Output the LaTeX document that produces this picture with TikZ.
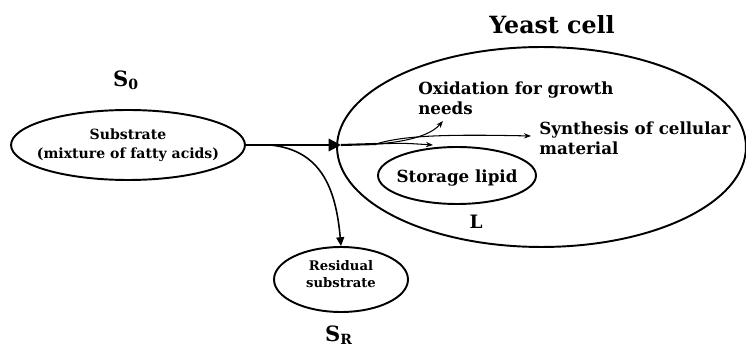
\documentclass[tikz,border=0pt]{standalone}
\usepackage{fontspec}
\setmainfont{DejaVu Serif}
\usetikzlibrary{shapes.geometric,arrows.meta}
\begin{document}
\begin{tikzpicture}[x=0.02cm,y=-0.02cm,
    blob/.style={draw,ellipse,line width=1.1pt,inner sep=0pt},
    txt/.style={inner sep=0pt,align=center,font=\fontsize{8}{10.5}\selectfont\bfseries},
    big/.style={inner sep=0pt,font=\fontsize{12}{14}\selectfont\bfseries},
    flow/.style={line width=0.6pt,-{Stealth[length=4pt,width=3pt]}}]
  \useasboundingbox (0,0) rectangle (746,347);

  \node[big] (s0) at (126,80) {S\textsubscript{0}};
  \node[blob,minimum width=4.68cm,minimum height=1.4cm] (sub) at (128,145) {};
  \node[txt] (subtxt) at (128,145) {Substrate\\(mixture of fatty acids)};

  \node[blob,minimum width=2.68cm,minimum height=1.3cm] (res) at (341,279.5) {};
  \node[txt,font=\fontsize{7.5}{10}\selectfont\bfseries] (restxt) at (341,274) {Residual\\substrate};
  \node[big] (sr) at (339,335) {S\textsubscript{R}};

  \node[big,font=\fontsize{13.5}{16}\selectfont\bfseries] (title) at (552,25) {Yeast cell};
  \node[blob,minimum width=8.18cm,minimum height=4cm] (cell) at (541.5,147) {};
  \node[blob,minimum width=3.16cm,minimum height=1.14cm] (lipid) at (457,175.5) {};
  \node[txt,font=\fontsize{9.5}{11.4}\selectfont\bfseries] (liptxt) at (457,178) {Storage lipid};
  \node[big,font=\fontsize{10.5}{12}\selectfont\bfseries] (L) at (476,222) {L};

  \node[txt,anchor=west,align=left,font=\fontsize{9.5}{11.4}\selectfont\bfseries] (oxi) at (418,98)
        {Oxidation for growth\\needs};
  \node[txt,anchor=west,align=left,font=\fontsize{9.5}{11.4}\selectfont\bfseries] (syn) at (539,138)
        {Synthesis of cellular\\material};

  \coordinate (split) at (270,145);
  \coordinate (entry) at (341,145);
  \coordinate (fork) at (376,144);
  \coordinate (oxiend) at (443,121);
  \coordinate (synend) at (531,136);
  \coordinate (lipend) at (433,145);

  \draw[line width=1.2pt,-{Triangle[length=7pt,width=7pt]}] (sub.east |- entry) -- (entry);
  \draw[line width=1.2pt] (entry) -- (fork);
  \draw[line width=0.9pt,-{Triangle[length=5pt,width=4.5pt]}] (split)
        .. controls (322,150) and (336,190) .. (res.north);

  \draw[flow] (fork) .. controls (405,142) and (430,136) .. (oxiend);
  \draw[flow] (fork) .. controls (402,136) and (440,134) .. (synend);
  \draw[flow] (fork) .. controls (402,143) .. (lipend);
\end{tikzpicture}
\end{document}
